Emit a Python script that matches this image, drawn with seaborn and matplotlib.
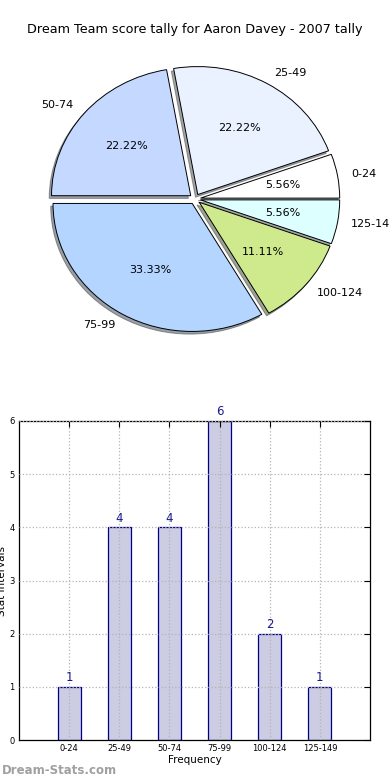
import numpy as np
import pandas as pd
import seaborn as sns
import matplotlib
matplotlib.use('Agg')
import matplotlib.pyplot as plt

# data
intervals = ['0-24', '25-49', '50-74', '75-99', '100-124', '125-149']
counts = [1, 4, 4, 6, 2, 1]
slice_colors = ['#FFFFFF', '#EAF1FF', '#C5D8FF', '#B3D5FF', '#CFEA8D', '#DDFFFF']
title = 'Dream Team score tally for Aaron Davey - 2007 tally'

sns.set_style('white')
plt.rcParams['font.family'] = ['DejaVu Sans']
for k in ['text.color', 'axes.labelcolor', 'xtick.color', 'ytick.color']:
    plt.rcParams[k] = 'black'

fig = plt.figure(figsize=(3.9, 7.8), dpi=100)

# pie on top
ax1 = fig.add_axes([21 / 390, 421 / 780, 348 / 390, 320 / 780])
ax1.pie(counts, labels=intervals, colors=slice_colors, explode=[0.04] * 6,
        autopct='%1.2f%%', startangle=0, labeldistance=1.1,
        shadow={'ox': -0.012, 'oy': -0.015, 'shade': 0.7},
        wedgeprops={'edgecolor': 'black', 'linewidth': 0.7},
        textprops={'fontsize': 8, 'color': 'black'})
ax1.set_aspect('auto')
ax1.set_xlim(-1.25, 1.25)
ax1.set_ylim(-1.25, 1.25)
ax1.axis('off')
fig.text(0.5, 1 - 30 / 780, title, ha='center', va='center', fontsize=9.2)

# bar chart below
ax2 = fig.add_axes([19 / 390, 40 / 780, 351 / 390, 319 / 780])
df = pd.DataFrame({'interval': intervals, 'count': counts})
sns.barplot(data=df, x='interval', y='count', ax=ax2, color='#CCCCE3',
            edgecolor='#00008B', linewidth=0.9, width=0.46, saturation=1)
for cont in ax2.containers:
    ax2.bar_label(cont, padding=2, fontsize=8.5, color='#1A1A8C')
ax2.set_xlim(-1, 6)
ax2.set_ylim(0, 6)
ax2.set_yticks(range(7))
ax2.grid(True, linestyle=':', color='#B4B4B4', linewidth=0.9)
ax2.set_axisbelow(False)
ax2.tick_params(direction='in', length=4, labelsize=6, top=True, right=True, pad=3)
ax2.set_xlabel('Frequency', fontsize=7.5, labelpad=1)
ax2.set_ylabel('Stat Intervals', fontsize=7.5, labelpad=2)
for s in ax2.spines.values():
    s.set_color('black')
    s.set_linewidth(0.9)

fig.text(2 / 390, 1 - 771 / 780, 'Dream-Stats.com', ha='left', va='center',
         fontsize=8.5, color='#A0A0A0', fontweight='bold')

fig.savefig('out.png', dpi=100)
